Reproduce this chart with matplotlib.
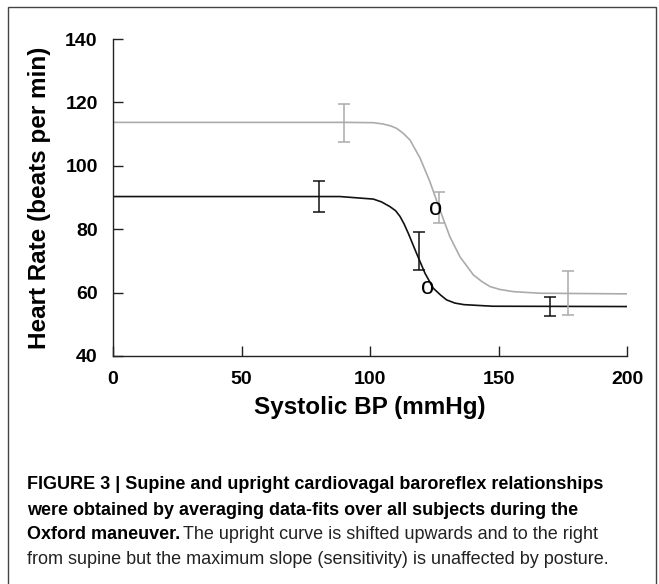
import numpy as np
import matplotlib
matplotlib.use('Agg')
from matplotlib import pyplot as plt
from matplotlib.patches import Rectangle

# fitted curves (systolic BP in mmHg, HR in beats/min)
upright_bp = [0, 50, 90, 101.3, 105, 108, 110.4, 113, 115.6, 119.5, 123.3, 127.2,
              131.1, 135.0, 140.2, 143.5, 146.7, 150.5, 155.8, 166.1, 200]
upright_hr = [113.7, 113.7, 113.7, 113.6, 113.2, 112.6, 111.8, 110.2, 108.1, 102.4,
              95.0, 86.1, 77.6, 71.3, 65.6, 63.5, 61.9, 61.0, 60.3, 59.8, 59.6]

supine_bp = [0, 50, 88.3, 101.3, 104.5, 107.8, 110, 111.7, 113.3, 114.9, 118.1,
             121.4, 124.6, 127.5, 129.8, 133, 136.6, 147.7, 200]
supine_hr = [90.3, 90.3, 90.3, 89.5, 88.6, 87.1, 85.8, 84.0, 81.6, 78.7, 72.4,
             66.1, 61.4, 59.2, 57.7, 56.7, 56.2, 55.7, 55.6]

# group means with error bars
upright_pts_bp = [90, 127, 177]
upright_pts_hr = [113.5, 86.8, 59.9]
upright_pts_err = [6.0, 5.0, 6.9]

supine_pts_bp = [80, 119, 170]
supine_pts_hr = [90.2, 73.0, 55.5]
supine_pts_err = [4.9, 6.0, 3.0]

# "o" marks (operating points)
o_bp = [125.5, 122.3]
o_hr = [86.3, 61.5]

x_ticks = [0, 50, 100, 150, 200]
y_ticks = [40, 60, 80, 100, 120, 140]

W, H = 659, 584
fig = plt.figure(figsize=(W / 100, H / 100), dpi=100)
ax = fig.add_axes([113 / W, 1 - 356 / H, 514 / W, 317 / H])

grey = '#ababab'
dark = '#111111'

ax.plot(upright_bp, upright_hr, color=grey, lw=1.2)
ax.plot(supine_bp, supine_hr, color=dark, lw=1.2)
ax.errorbar(upright_pts_bp, upright_pts_hr, yerr=upright_pts_err, fmt='none',
            ecolor=grey, elinewidth=1.1, capsize=4, capthick=1.1)
ax.errorbar(supine_pts_bp, supine_pts_hr, yerr=supine_pts_err, fmt='none',
            ecolor=dark, elinewidth=1.1, capsize=4, capthick=1.1)
for bp, hr in zip(o_bp, o_hr):
    ax.text(bp, hr, 'o', ha='center', va='center', fontsize=17,
            family='Liberation Sans', color='black')

ax.set_xlim(0, 200)
ax.set_ylim(40, 140)
ax.set_xticks(x_ticks)
ax.set_yticks(y_ticks)
for s in ['top', 'right']:
    ax.spines[s].set_visible(False)
for s in ['left', 'bottom']:
    ax.spines[s].set_color('#222222')
    ax.spines[s].set_linewidth(1.0)
ax.tick_params(direction='in', length=7, width=1.0, color='#222222', pad=11)
for lab in ax.get_xticklabels() + ax.get_yticklabels():
    lab.set_fontfamily('Liberation Sans')
    lab.set_fontweight('bold')
    lab.set_fontsize(14)

ax.set_xlabel('Systolic BP (mmHg)', fontsize=17.5, fontweight='bold',
              family='Liberation Sans')
ax.set_ylabel('Heart Rate (beats per min)', fontsize=17.5, fontweight='bold',
              family='Liberation Sans')
ax.xaxis.set_label_coords(0.5, -0.125)
ax.yaxis.set_label_coords(-0.12, 0.5)

# frame around figure
fig.patches.append(Rectangle((8 / W, -0.05), 648 / W, 1.05 - 7 / H,
                             transform=fig.transFigure, fill=False,
                             edgecolor='#444444', lw=1.0))

# caption
cap_font = 'Liberation Sans'
cx = 27 / W
fs = 13
fig.text(cx, 1 - 489 / H, 'FIGURE 3 | Supine and upright cardiovagal baroreflex relationships',
         fontsize=fs, fontweight='bold', family=cap_font, va='baseline')
fig.text(cx, 1 - 515 / H, 'were obtained by averaging data-fits over all subjects during the',
         fontsize=fs, fontweight='bold', family=cap_font, va='baseline')
t = fig.text(cx, 1 - 539 / H, 'Oxford maneuver.', fontsize=fs, fontweight='bold',
             family=cap_font, va='baseline')
fig.canvas.draw()
x1 = t.get_window_extent().x1 / W
fig.text(x1 + 3 / W, 1 - 539 / H,
         'The upright curve is shifted upwards and to the right',
         fontsize=fs, family=cap_font, va='baseline', color='#222222')
fig.text(cx, 1 - 564 / H,
         'from supine but the maximum slope (sensitivity) is unaffected by posture.',
         fontsize=fs, family=cap_font, va='baseline', color='#222222')

fig.savefig('out.png', dpi=100)
